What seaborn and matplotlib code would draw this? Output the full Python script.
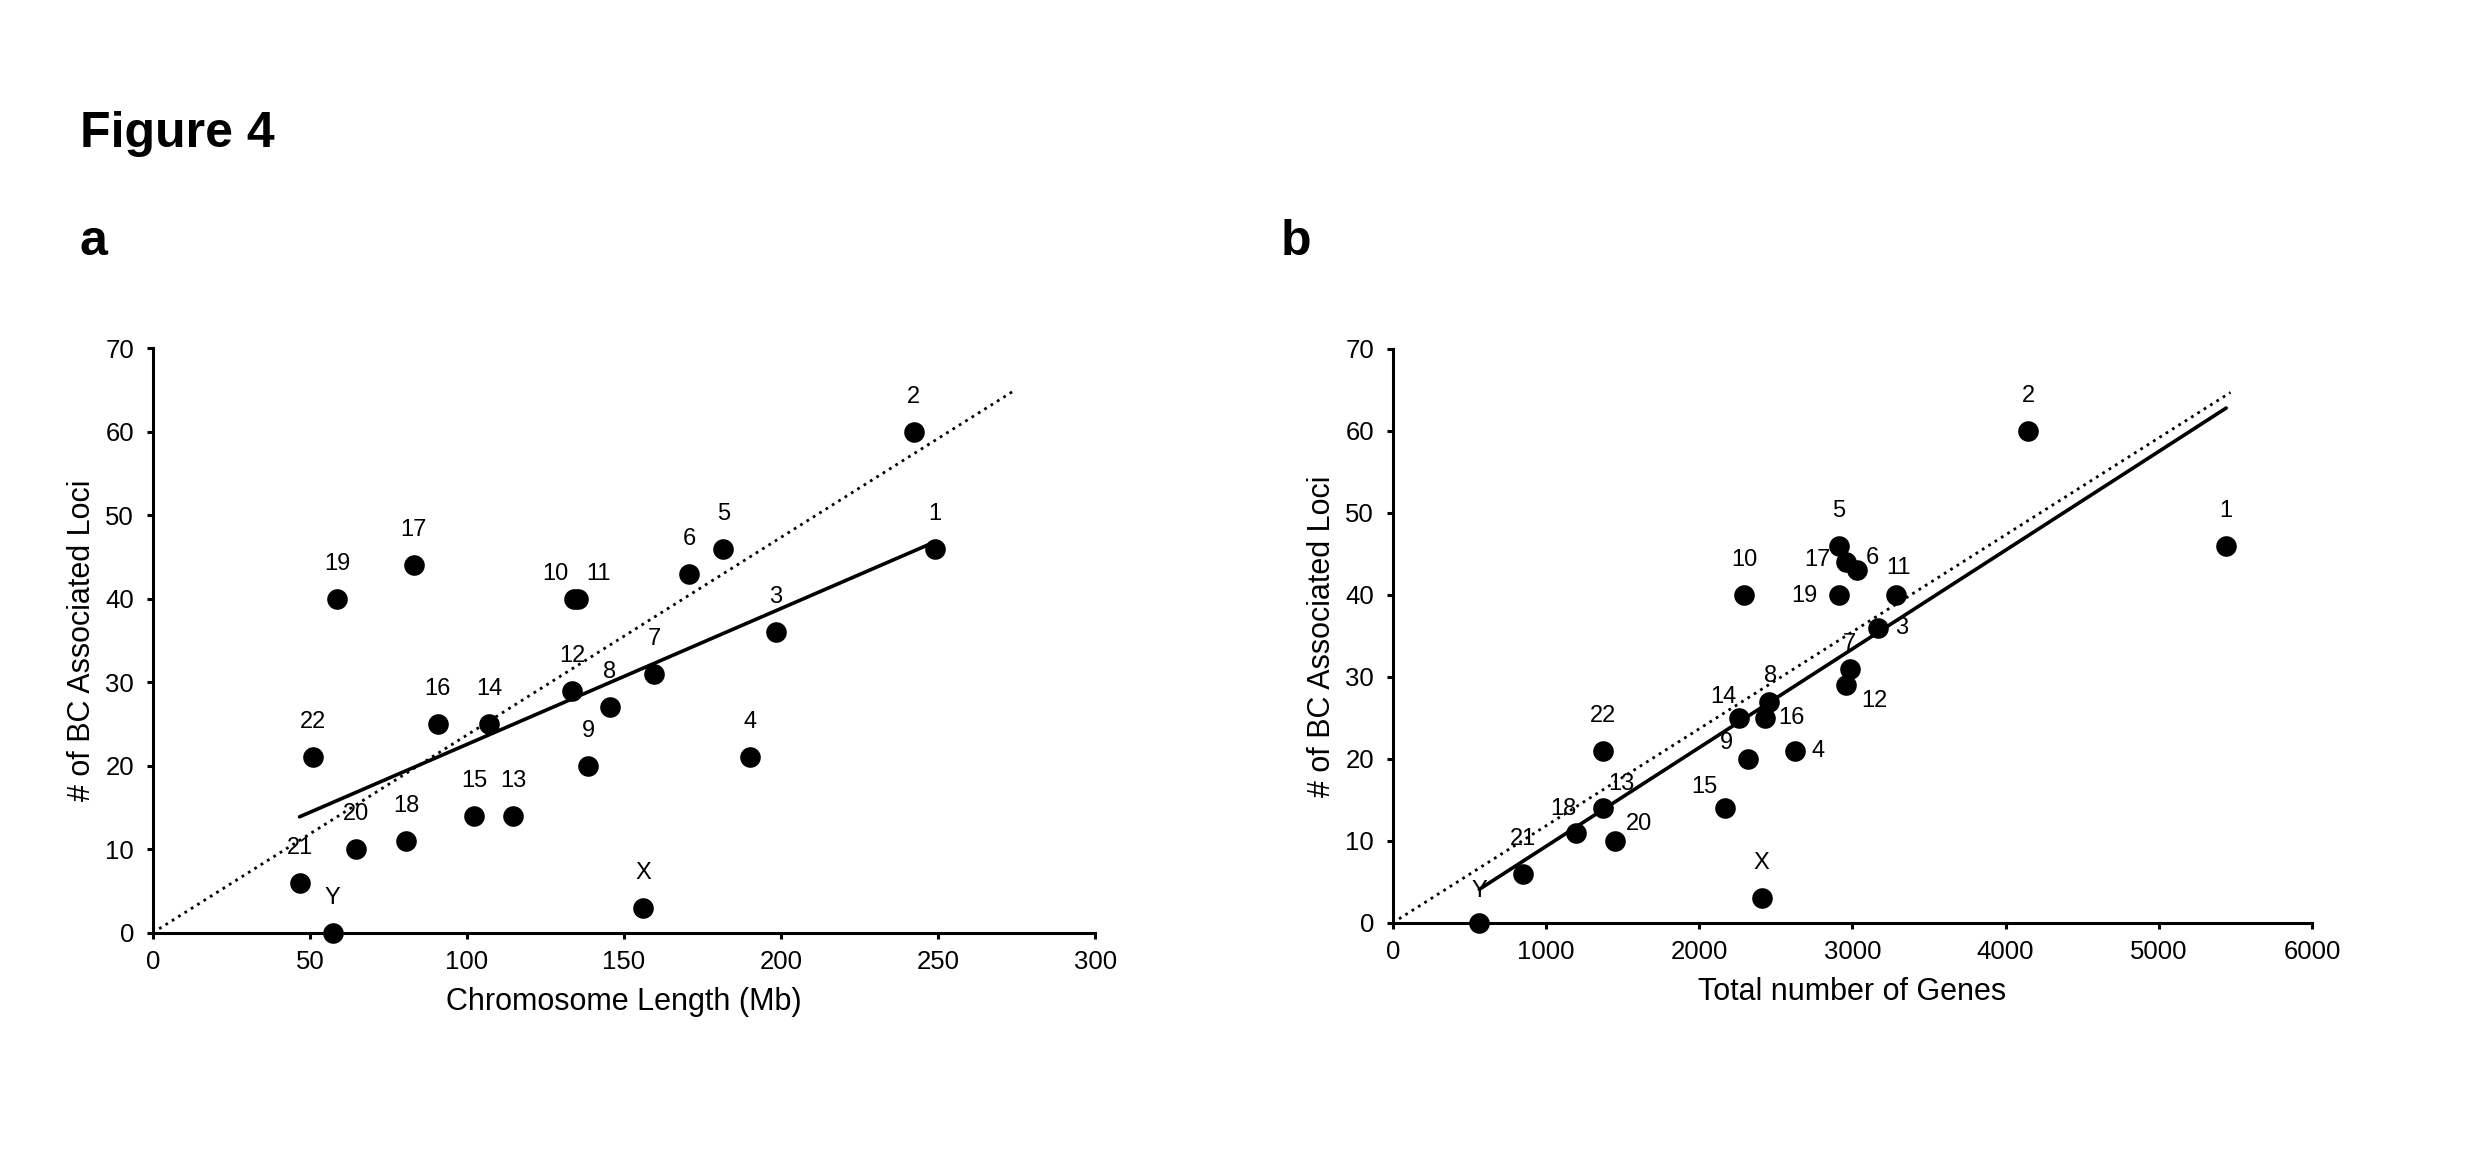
import numpy as np
import pandas as pd
import matplotlib
matplotlib.use("Agg")
import matplotlib.pyplot as plt
import seaborn as sns

# Chromosome labels (same order for both panels)
chrom = ["1", "2", "3", "4", "5", "6", "7", "8", "9", "10", "11", "12",
         "13", "14", "15", "16", "17", "18", "19", "20", "21", "22", "X", "Y"]

# Number of BC associated loci per chromosome
loci = [46, 60, 36, 21, 46, 43, 31, 27, 20, 40, 40, 29,
        14, 25, 14, 25, 44, 11, 40, 10, 6, 21, 3, 0]

# Chromosome length (Mb)
length_mb = [249.0, 242.3, 198.4, 190.2, 181.6, 170.8, 159.6, 145.4, 138.7, 134.2, 135.5, 133.5,
             114.8, 107.0, 102.3, 90.7, 83.1, 80.6, 58.6, 64.6, 46.7, 51.0, 156.2, 57.3]

# Total number of genes
n_genes = [5440, 4147, 3165, 2624, 2913, 3032, 2982, 2454, 2317, 2294, 3284, 2959,
           1372, 2261, 2170, 2427, 2959, 1193, 2913, 1450, 849, 1372, 2408, 564]

# Trend lines: fitted line and expected (through origin)
fit_a_x, fit_a_y = [46.7, 249.0], [13.9, 46.8]
exp_a_x, exp_a_y = [2.0, 274.2], [0.5, 64.9]
fit_b_x, fit_b_y = [564, 5440], [4.1, 62.8]
exp_b_x, exp_b_y = [40, 5468], [0.5, 64.7]

df = pd.DataFrame({"chrom": chrom, "loci": loci, "length": length_mb, "genes": n_genes})

# label offsets in pixels (dx, dy up), default straight above the point
off_a = {"10": (-19, 25), "11": (20, 25)}
off_b = {"3": (24, 0), "4": (23, 0), "6": (15, 12), "7": (0, 25), "8": (2, 26),
         "9": (-21, 16), "11": (3, 27), "12": (28, -16), "13": (18, 24), "14": (-16, 21),
         "15": (-21, 21), "16": (27, 0), "17": (-29, 2), "18": (-12, 24), "19": (-35, -1),
         "20": (24, 17), "Y": (0, 32)}

sns.set_theme(style="white")
plt.rcParams["font.family"] = ["Liberation Sans", "DejaVu Sans"]
plt.rcParams["text.color"] = "black"
plt.rcParams["axes.labelcolor"] = "black"

fig = plt.figure(figsize=(24.86, 11.75), dpi=100)
ax_a = fig.add_axes([0.0615, 0.2060, 0.3790, 0.4978])
ax_b = fig.add_axes([0.5603, 0.2145, 0.3697, 0.4885])

PX = 0.72  # points per pixel at 100 dpi


def draw_panel(ax, xcol, xmax, xstep, xlabel, fit_x, fit_y, exp_x, exp_y, offsets):
    sns.lineplot(x=exp_x, y=exp_y, ax=ax, color="black", lw=2.0,
                 linestyle=(0, (1, 1.7)), zorder=2)
    sns.lineplot(x=fit_x, y=fit_y, ax=ax, color="black", lw=2.6, zorder=2)
    sns.scatterplot(data=df, x=xcol, y="loci", ax=ax, color="black", s=220,
                    edgecolor="black", linewidth=0, zorder=3, clip_on=False)
    for _, r in df.iterrows():
        dx, dy = offsets.get(r["chrom"], (0, 35))
        ax.annotate(r["chrom"], (r[xcol], r["loci"]), xytext=(dx * PX, dy * PX),
                    textcoords="offset points", ha="center", va="center",
                    fontsize=17, color="black", zorder=4)
    ax.set_xlim(0, xmax)
    ax.set_ylim(0, 70)
    ax.set_xticks(np.arange(0, xmax + 1, xstep))
    ax.set_yticks(np.arange(0, 71, 10))
    ax.set_xlabel(xlabel, fontsize=22, labelpad=9)
    ax.set_ylabel("# of BC Associated Loci", fontsize=22, labelpad=6)
    for side in ["top", "right"]:
        ax.spines[side].set_visible(False)
    for side in ["left", "bottom"]:
        ax.spines[side].set_linewidth(2.2)
        ax.spines[side].set_color("black")
    ax.tick_params(axis="both", direction="out", width=2.2, length=4.5,
                   labelsize=18.5, colors="black", bottom=True, left=True)
    ax.tick_params(axis="y", pad=9)
    ax.tick_params(axis="x", pad=8)


draw_panel(ax_a, "length", 300, 50, "Chromosome Length (Mb)",
           fit_a_x, fit_a_y, exp_a_x, exp_a_y, off_a)
draw_panel(ax_b, "genes", 6000, 1000, "Total number of Genes",
           fit_b_x, fit_b_y, exp_b_x, exp_b_y, off_b)

fig.text(0.032, 0.875, "Figure 4", fontsize=36, fontweight="bold", ha="left", va="baseline")
fig.text(0.032, 0.783, "a", fontsize=36, fontweight="bold", ha="left", va="baseline")
fig.text(0.515, 0.783, "b", fontsize=36, fontweight="bold", ha="left", va="baseline")

fig.savefig("out.png", dpi=100, facecolor="white")
